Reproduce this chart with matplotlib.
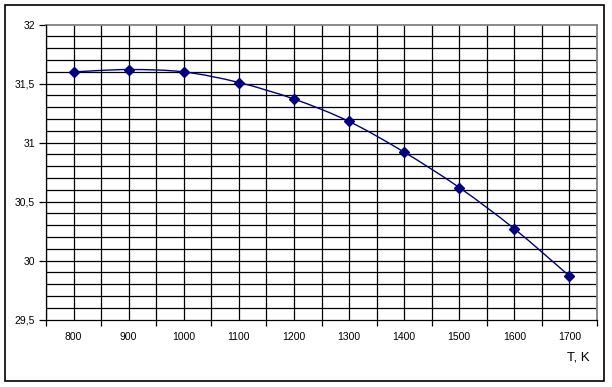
import numpy as np
import matplotlib
matplotlib.use("Agg")
from matplotlib import pyplot as plt
from matplotlib.path import Path
from matplotlib.patches import PathPatch, Rectangle
from matplotlib.ticker import MultipleLocator, FixedLocator, FuncFormatter

temps = ["800", "900", "1000", "1100", "1200", "1300", "1400", "1500", "1600", "1700"]
values = [31.60, 31.62, 31.60, 31.51, 31.37, 31.18, 30.92, 30.62, 30.27, 29.87]

W, H = 612, 387
fig = plt.figure(figsize=(W / 100, H / 100), dpi=100)
plt.rcParams["font.family"] = ["Liberation Sans", "DejaVu Sans"]

# outer chart frame
fig.patches.append(Rectangle((5 / W, 6 / H), 599 / W, 376 / H, transform=fig.transFigure,
                             fill=False, edgecolor="black", linewidth=1.2))

ax = fig.add_axes([46 / W, (H - 319.7) / H, (597 - 46) / W, (319.7 - 24.7) / H])
x = np.arange(len(values))
ax.set_xlim(-0.5, len(values) - 0.5)
ax.set_ylim(29.5, 32)

# gridlines: category boundaries and centres, every 0.1 on y
for gx in np.arange(-0.5, len(values), 0.5):
    ax.axvline(gx, color="black", linewidth=0.9, zorder=1)
for gy in np.arange(29.6, 32.0, 0.1):
    ax.axhline(gy, color="black", linewidth=0.9, zorder=1)

# smoothed line (bezier through the points)
pts = np.column_stack([x, values])
verts = [pts[0]]
codes = [Path.MOVETO]
for i in range(len(pts) - 1):
    p0 = pts[i - 1] if i > 0 else pts[i]
    p1, p2 = pts[i], pts[i + 1]
    p3 = pts[i + 2] if i + 2 < len(pts) else pts[i + 1]
    c1 = p1 + (p2 - p0) / 6
    c2 = p2 - (p3 - p1) / 6
    verts += [c1, c2, p2]
    codes += [Path.CURVE4] * 3
ax.add_patch(PathPatch(Path(verts, codes), facecolor="none", edgecolor="#000080",
                       linewidth=1.0, zorder=3))
ax.plot(x, values, linestyle="none", marker="D", markersize=5, color="#000080", zorder=4)

ax.xaxis.set_major_locator(FixedLocator(np.arange(-0.5, len(values), 1.0)))
ax.xaxis.set_minor_locator(FixedLocator(x))
ax.set_xticklabels([], minor=False)
ax.set_xticklabels(temps, minor=True)
ax.tick_params(axis="x", which="major", direction="out", length=4, width=0.9, color="black")
ax.tick_params(axis="x", which="minor", length=0, pad=9, labelsize=7.5)

ax.yaxis.set_major_locator(MultipleLocator(0.5))
ax.yaxis.set_major_formatter(FuncFormatter(lambda v, p: f"{v:g}".replace(".", ",")))
ax.tick_params(axis="y", direction="out", length=5, width=0.9, labelsize=7.5, pad=3)

for s in ["left", "bottom"]:
    ax.spines[s].set_color("black")
    ax.spines[s].set_linewidth(0.9)
for s in ["top", "right"]:
    ax.spines[s].set_color("#808080")
    ax.spines[s].set_linewidth(1.3)
    ax.spines[s].set_zorder(2)

fig.text(578 / W, 1 - 358 / H, "T, K", ha="center", va="center", fontsize=9.5)

fig.savefig("out.png", dpi=100)
